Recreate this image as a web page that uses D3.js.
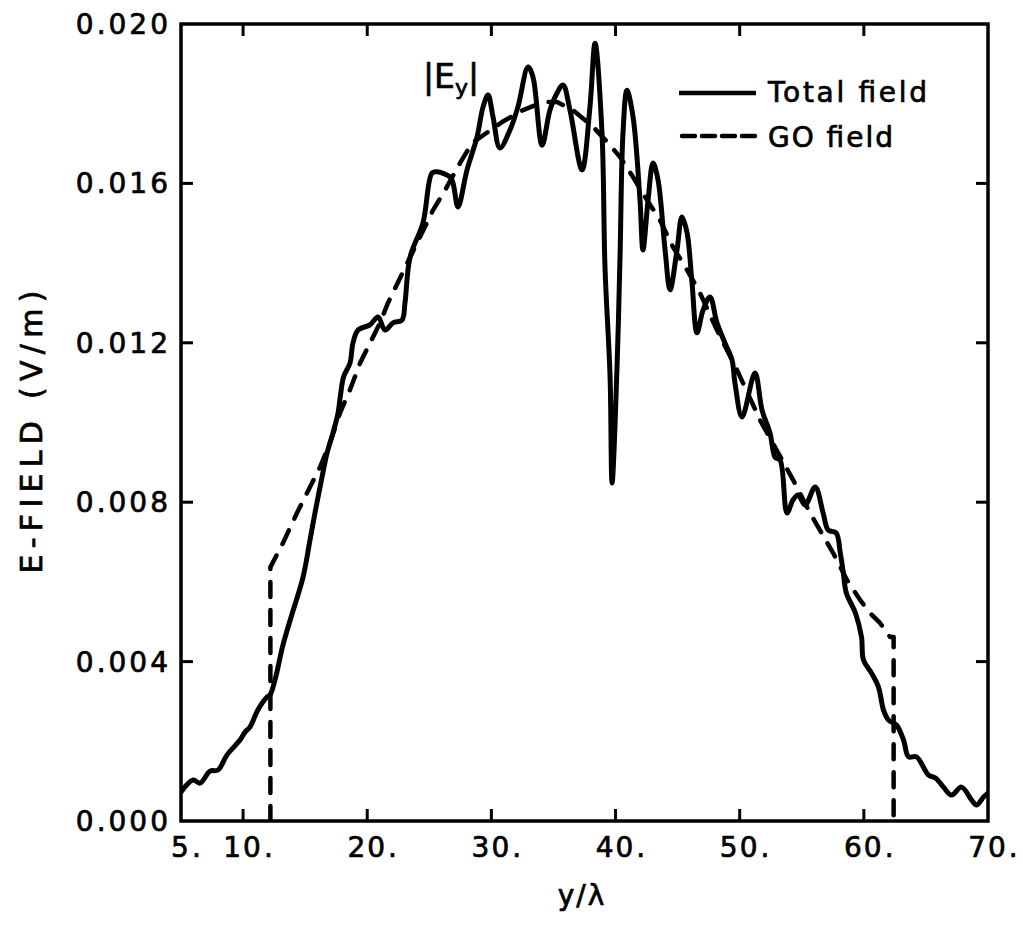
<!DOCTYPE html>
<html>
<head>
<meta charset="utf-8">
<script src="https://cdn.jsdelivr.net/npm/d3@7.9.0/dist/d3.min.js"></script>
<style>
  body { margin: 0; background: #fff; }
  svg { display: block; }
  text { font-family: 'DejaVu Sans', sans-serif; fill: #000; stroke: #000; stroke-width: 0.7px; }
</style>
</head>
<body>
<svg id="chart" width="1023" height="925"></svg>
<script>
// total field |Ey| (solid)
const totalX = [5.0, 5.97, 6.53, 7.34, 7.98, 8.71, 9.75, 10.16, 10.56, 11.2, 11.93, 12.17, 12.57, 13.2, 13.9, 14.83, 15.39, 15.79, 16.36, 16.76, 17.24, 17.65, 17.85, 18.1, 18.61, 18.85, 19.26, 20.22, 20.87, 21.43, 22.08, 22.8, 23.04, 23.45, 24.49, 25.22, 25.62, 26.67, 26.91, 27.31, 28.04, 28.84, 29.33, 29.73, 30.13, 30.69, 31.5, 32.14, 32.95, 33.35, 34.08, 34.72, 35.29, 35.77, 36.33, 37.3, 37.94, 38.35, 38.91, 39.15, 39.56, 39.72, 40.12, 40.36, 40.6, 40.92, 41.41, 41.97, 42.21, 42.62, 43.02, 43.42, 43.99, 44.39, 44.95, 45.35, 45.76, 46.16, 46.56, 47.05, 47.61, 48.17, 48.82, 49.38, 49.62, 50.19, 51.23, 51.8, 52.44, 52.85, 53.25, 53.81, 54.3, 54.71, 55.27, 56.08, 56.72, 57.13, 57.77, 58.1, 58.35, 58.59, 59.32, 59.81, 59.97, 60.62, 61.18, 61.58, 61.99, 62.63, 63.2, 63.6, 64.24, 65.21, 65.77, 66.42, 67.06, 67.87, 68.67, 69.08, 69.64, 70.0];
const totalY = [0.00073, 0.00103, 0.00095, 0.00125, 0.00128, 0.00166, 0.00203, 0.00223, 0.00236, 0.00279, 0.00311, 0.00316, 0.00354, 0.0044, 0.00515, 0.00612, 0.00705, 0.00773, 0.00863, 0.00923, 0.00974, 0.01024, 0.0107, 0.01115, 0.01149, 0.01199, 0.01232, 0.01245, 0.01265, 0.01232, 0.0125, 0.01257, 0.013, 0.01415, 0.01501, 0.01626, 0.01629, 0.01616, 0.01601, 0.01541, 0.01634, 0.01716, 0.01792, 0.01822, 0.01767, 0.01689, 0.01734, 0.01792, 0.01892, 0.01867, 0.01696, 0.01784, 0.01827, 0.01847, 0.01784, 0.01634, 0.01792, 0.01952, 0.01726, 0.0139, 0.01114, 0.00848, 0.01139, 0.01415, 0.01726, 0.01834, 0.01767, 0.01558, 0.01433, 0.01558, 0.01651, 0.01609, 0.01433, 0.01333, 0.01433, 0.01516, 0.01476, 0.0135, 0.01225, 0.01282, 0.01315, 0.0125, 0.01199, 0.01157, 0.01099, 0.01014, 0.01124, 0.01031, 0.00974, 0.00913, 0.00906, 0.00773, 0.00806, 0.00818, 0.00793, 0.00838, 0.00773, 0.0073, 0.00723, 0.00673, 0.00622, 0.00572, 0.00522, 0.00462, 0.00404, 0.00371, 0.00336, 0.00279, 0.00253, 0.00241, 0.00203, 0.00161, 0.00161, 0.00115, 0.00108, 0.00085, 0.00065, 0.00085, 0.00053, 0.0004, 0.0006, 0.0007];

// geometrical optics field (dashed)
const goX = [12.2, 12.2, 13.22, 14.34, 15.39, 16.2, 17.0, 17.81, 18.61, 19.42, 20.22, 21.03, 21.67, 25.3, 26.27, 27.47, 28.44, 30.86, 32.55, 34.16, 35.29, 36.57, 38.19, 39.56, 40.36, 41.41, 42.54, 43.58, 44.63, 45.76, 46.8, 48.17, 49.78, 51.64, 54.3, 55.67, 57.52, 58.64, 59.69, 60.5, 61.3, 62.11, 62.4, 62.4];
const goY = [0.0, 0.00637, 0.00698, 0.00773, 0.00838, 0.00888, 0.00949, 0.01024, 0.01082, 0.01149, 0.01199, 0.0125, 0.013, 0.01533, 0.01583, 0.01651, 0.01701, 0.01754, 0.01784, 0.01804, 0.01804, 0.01784, 0.01742, 0.01696, 0.01666, 0.01616, 0.01558, 0.01508, 0.0144, 0.01383, 0.01325, 0.01232, 0.01132, 0.01006, 0.00856, 0.00773, 0.00673, 0.00605, 0.00555, 0.00522, 0.00497, 0.00462, 0.00462, 0.0];

const xTicks = [10, 20, 30, 40, 50, 60];
const xLabelVals = [5, 10, 20, 30, 40, 50, 60, 70];
const xLabels = ["5", "10", "20", "30", "40", "50", "60", "70"];
const yTicks = [0.004, 0.008, 0.012, 0.016];
const yLabelVals = [0, 0.004, 0.008, 0.012, 0.016, 0.020];
const yLabels = ["0.000", "0.004", "0.008", "0.012", "0.016", "0.020"];
const legendNames = ["Total field", "GO field"];

const svg = d3.select('#chart');
const x = d3.scaleLinear().domain([5, 70]).range([181, 988]);
const y = d3.scaleLinear().domain([0, 0.02]).range([821, 24]);
const TICK = 12;

svg.append('clipPath').attr('id', 'clip')
  .append('rect').attr('x', 181).attr('y', 24).attr('width', 807).attr('height', 797);

// curves
const totalData = totalX.map((v, i) => [v, totalY[i]]);
const goData = goX.map((v, i) => [v, goY[i]]);

const lineSmooth = d3.line().x(d => x(d[0])).y(d => y(d[1])).curve(d3.curveCatmullRom.alpha(0.5));
const lineStraight = d3.line().x(d => x(d[0])).y(d => y(d[1]));

svg.append('path')
  .attr('d', lineStraight(goData))
  .attr('clip-path', 'url(#clip)')
  .attr('fill', 'none').attr('stroke', '#000').attr('stroke-width', 4.5)
  .attr('stroke-dasharray', '15,13').attr('stroke-linecap', 'round').attr('stroke-linejoin', 'round');

svg.append('path')
  .attr('d', lineSmooth(totalData))
  .attr('clip-path', 'url(#clip)')
  .attr('fill', 'none').attr('stroke', '#000').attr('stroke-width', 5)
  .attr('stroke-linejoin', 'round').attr('stroke-linecap', 'round');

// frame
svg.append('rect')
  .attr('x', x(5)).attr('y', y(0.02))
  .attr('width', x(70) - x(5)).attr('height', y(0) - y(0.02))
  .attr('fill', 'none').attr('stroke', '#000').attr('stroke-width', 3.5);

// inward ticks on all four sides
xTicks.forEach(v => {
  svg.append('line').attr('x1', x(v)).attr('x2', x(v)).attr('y1', y(0)).attr('y2', y(0) - TICK)
    .attr('stroke', '#000').attr('stroke-width', 3);
  svg.append('line').attr('x1', x(v)).attr('x2', x(v)).attr('y1', y(0.02)).attr('y2', y(0.02) + TICK)
    .attr('stroke', '#000').attr('stroke-width', 3);
});
yTicks.forEach(v => {
  svg.append('line').attr('x1', x(5)).attr('x2', x(5) + TICK).attr('y1', y(v)).attr('y2', y(v))
    .attr('stroke', '#000').attr('stroke-width', 3);
  svg.append('line').attr('x1', x(70)).attr('x2', x(70) - TICK).attr('y1', y(v)).attr('y2', y(v))
    .attr('stroke', '#000').attr('stroke-width', 3);
});

// x tick labels: number centred on tick, trailing dot after it
xLabelVals.forEach((v, i) => {
  const t = svg.append('text')
    .attr('x', x(v)).attr('y', 857)
    .attr('text-anchor', 'middle')
    .attr('font-size', 28).attr('letter-spacing', 2)
    .text(xLabels[i]);
  const w = t.node().getComputedTextLength();
  svg.append('text')
    .attr('x', x(v) + w / 2 + 1).attr('y', 857)
    .attr('font-size', 28)
    .text('.');
});

// y tick labels
yLabelVals.forEach((v, i) => {
  svg.append('text')
    .attr('x', 171).attr('y', y(v)).attr('dy', '0.36em')
    .attr('text-anchor', 'end')
    .attr('font-size', 28).attr('letter-spacing', 3)
    .text(yLabels[i]);
});

// axis titles
svg.append('text')
  .attr('x', 582).attr('y', 905)
  .attr('text-anchor', 'middle')
  .attr('font-size', 28).attr('letter-spacing', 2)
  .text('y/λ');

svg.append('text')
  .attr('transform', 'translate(42,432) rotate(-90)')
  .attr('text-anchor', 'middle')
  .attr('font-size', 30)
  .attr('textLength', 283).attr('lengthAdjust', 'spacing')
  .text('E-FIELD (V/m)');

// |Ey| annotation
const ey = svg.append('text').attr('x', 423).attr('y', 88).attr('font-size', 33);
ey.append('tspan').text('|E');
ey.append('tspan').attr('font-size', 22).attr('dy', 7).text('y');
ey.append('tspan').attr('dy', -7).text('|');

// legend
svg.append('line').attr('x1', 679).attr('x2', 756).attr('y1', 93).attr('y2', 93)
  .attr('stroke', '#000').attr('stroke-width', 4.5);
svg.append('line').attr('x1', 682).attr('x2', 756).attr('y1', 136).attr('y2', 136)
  .attr('stroke', '#000').attr('stroke-width', 4.5)
  .attr('stroke-dasharray', '13,7').attr('stroke-linecap', 'round');
svg.append('text').attr('x', 768).attr('y', 102).attr('font-size', 28)
  .attr('textLength', 159).attr('lengthAdjust', 'spacing').text(legendNames[0]);
svg.append('text').attr('x', 768).attr('y', 147).attr('font-size', 28)
  .attr('textLength', 125).attr('lengthAdjust', 'spacing').text(legendNames[1]);
</script>
</body>
</html>
